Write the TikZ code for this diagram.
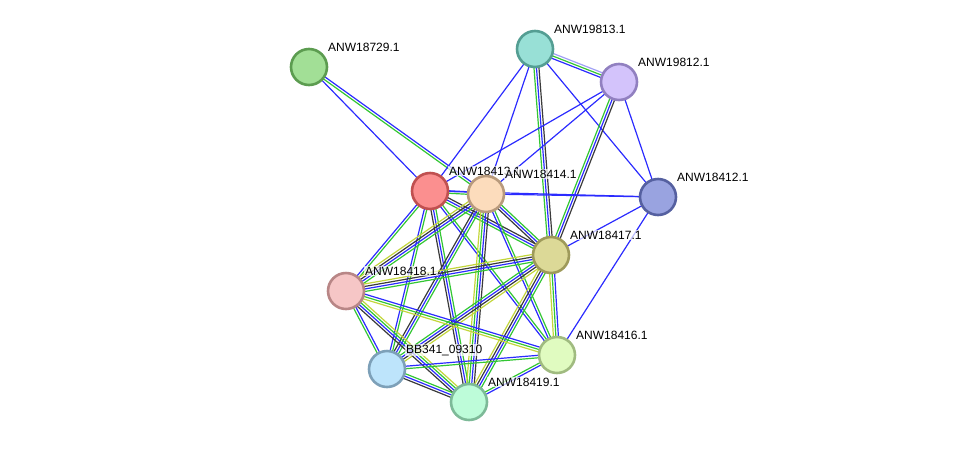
\documentclass[tikz,border=0pt]{standalone}
\usepackage{fontspec}
\setmainfont{Liberation Sans}
\usepackage{tikz}
\usetikzlibrary{calc}

\definecolor{sblue}{HTML}{2B2BFF}
\definecolor{sgreen}{HTML}{33C633}
\definecolor{sblack}{HTML}{3A3A3A}
\definecolor{syellow}{HTML}{C3D63A}
\definecolor{slblue}{HTML}{A0A0F5}

\definecolor{f18729}{HTML}{A2DF96} \definecolor{b18729}{HTML}{5C9C50}
\definecolor{f19813}{HTML}{98E0D6} \definecolor{b19813}{HTML}{549E93}
\definecolor{f19812}{HTML}{D3C3FB} \definecolor{b19812}{HTML}{9180C0}
\definecolor{f18413}{HTML}{FB8F8F} \definecolor{b18413}{HTML}{C05050}
\definecolor{f18414}{HTML}{FCDCBC} \definecolor{b18414}{HTML}{B89A7C}
\definecolor{f18412}{HTML}{99A3E0} \definecolor{b18412}{HTML}{5560A0}
\definecolor{f18417}{HTML}{DCD997} \definecolor{b18417}{HTML}{9E9A5A}
\definecolor{f18418}{HTML}{F6C6C6} \definecolor{b18418}{HTML}{B88686}
\definecolor{fBB341}{HTML}{BDE4FB} \definecolor{bBB341}{HTML}{7DA0B8}
\definecolor{f18419}{HTML}{BDFCD9} \definecolor{b18419}{HTML}{7DBA98}
\definecolor{f18416}{HTML}{E0FBC0} \definecolor{b18416}{HTML}{A0BB80}

% #1 from, #2 to, #3 number of strands, #4 strand colours
\newcommand{\netedge}[4]{%
\foreach \col [count=\i] in {#4} {
\pgfmathsetmacro{\off}{(\i-(#3+1)/2)*2.5}
\draw[strand,draw=\col] ($(#1.center)!\off pt!90:(#2.center)$) -- ($(#2.center)!\off pt!-90:(#1.center)$);
}
}

\begin{document}
\begin{tikzpicture}[x=1pt,y=-1pt,
  strand/.style={line width=1.2pt},
  prot/.style={circle,minimum size=36pt,inner sep=0pt,line width=2.6pt},
  lbl/.style={font=\fontsize{12}{14}\selectfont,anchor=base west,inner sep=1pt,
    fill=white,fill opacity=0.7,text opacity=1}]
\useasboundingbox (0,0) rectangle (976,448);

\foreach \id/\x/\y in {18729/309/67, 19813/535/49, 19812/619/82, 18413/430/191,
  18414/486/194, 18412/658/197, 18417/551/255, 18418/346/291,
  BB341/387/369, 18419/469/402, 18416/557/355} {
\coordinate (c\id) at (\x,\y);
}

% edges
\netedge{c18729}{c18413}{1}{sblue}
\netedge{c18729}{c18414}{2}{sgreen,sblue}
\netedge{c19813}{c19812}{3}{sblue,sgreen,slblue}
\netedge{c19813}{c18413}{1}{sblue}
\netedge{c19813}{c18414}{1}{sblue}
\netedge{c19813}{c18417}{3}{sgreen,sblue,sblack}
\netedge{c19813}{c18412}{1}{sblue}
\netedge{c19812}{c18413}{1}{sblue}
\netedge{c19812}{c18414}{1}{sblue}
\netedge{c19812}{c18417}{3}{sgreen,sblue,sblack}
\netedge{c19812}{c18412}{1}{sblue}
\netedge{c18413}{c18412}{1}{sblue}
\netedge{c18414}{c18412}{1}{sblue}
\netedge{c18417}{c18412}{1}{sblue}
\netedge{c18416}{c18412}{1}{sblue}
\netedge{c18413}{c18414}{2}{sgreen,sblue}
\netedge{c18413}{c18417}{3}{sgreen,sblue,sblack}
\netedge{c18413}{c18418}{2}{sblue,sgreen}
\netedge{c18413}{cBB341}{2}{sblue,sgreen}
\netedge{c18413}{c18419}{3}{sblack,sblue,sgreen}
\netedge{c18413}{c18416}{2}{sblue,sgreen}
\netedge{c18414}{c18417}{3}{sblack,sblue,sgreen}
\netedge{c18414}{c18418}{4}{syellow,sblack,sblue,sgreen}
\netedge{c18414}{cBB341}{3}{sblack,sblue,sgreen}
\netedge{c18414}{c18419}{4}{syellow,sgreen,sblue,sblack}
\netedge{c18414}{c18416}{2}{sblue,sgreen}
\netedge{c18417}{c18418}{4}{syellow,sblack,sblue,sgreen}
\netedge{c18417}{cBB341}{4}{sgreen,sblue,sblack,syellow}
\netedge{c18417}{c18419}{4}{syellow,sblack,sblue,sgreen}
\netedge{c18417}{c18416}{3}{syellow,sgreen,sblue}
\netedge{c18418}{cBB341}{2}{sgreen,sblue}
\netedge{c18418}{c18419}{4}{sblack,sblue,sgreen,syellow}
\netedge{c18418}{c18416}{3}{syellow,sgreen,sblue}
\netedge{cBB341}{c18419}{3}{sblack,sblue,sgreen}
\netedge{cBB341}{c18416}{2}{sgreen,sblue}
\netedge{c18419}{c18416}{2}{sblue,sgreen}

% proteins and their names
\foreach \id/\txt in {18729/ANW18729.1, 19813/ANW19813.1, 19812/ANW19812.1,
  18413/ANW18413.1, 18414/ANW18414.1, 18412/ANW18412.1, 18417/ANW18417.1,
  18418/ANW18418.1, BB341/BB341\_09310, 18419/ANW18419.1, 18416/ANW18416.1} {
\node[prot,fill=f\id,draw=b\id] (n\id) at (c\id) {};
\node[lbl] (l\id) at ([shift={(18,-16)}]n\id.center) {\txt};
}

\end{tikzpicture}
\end{document}
